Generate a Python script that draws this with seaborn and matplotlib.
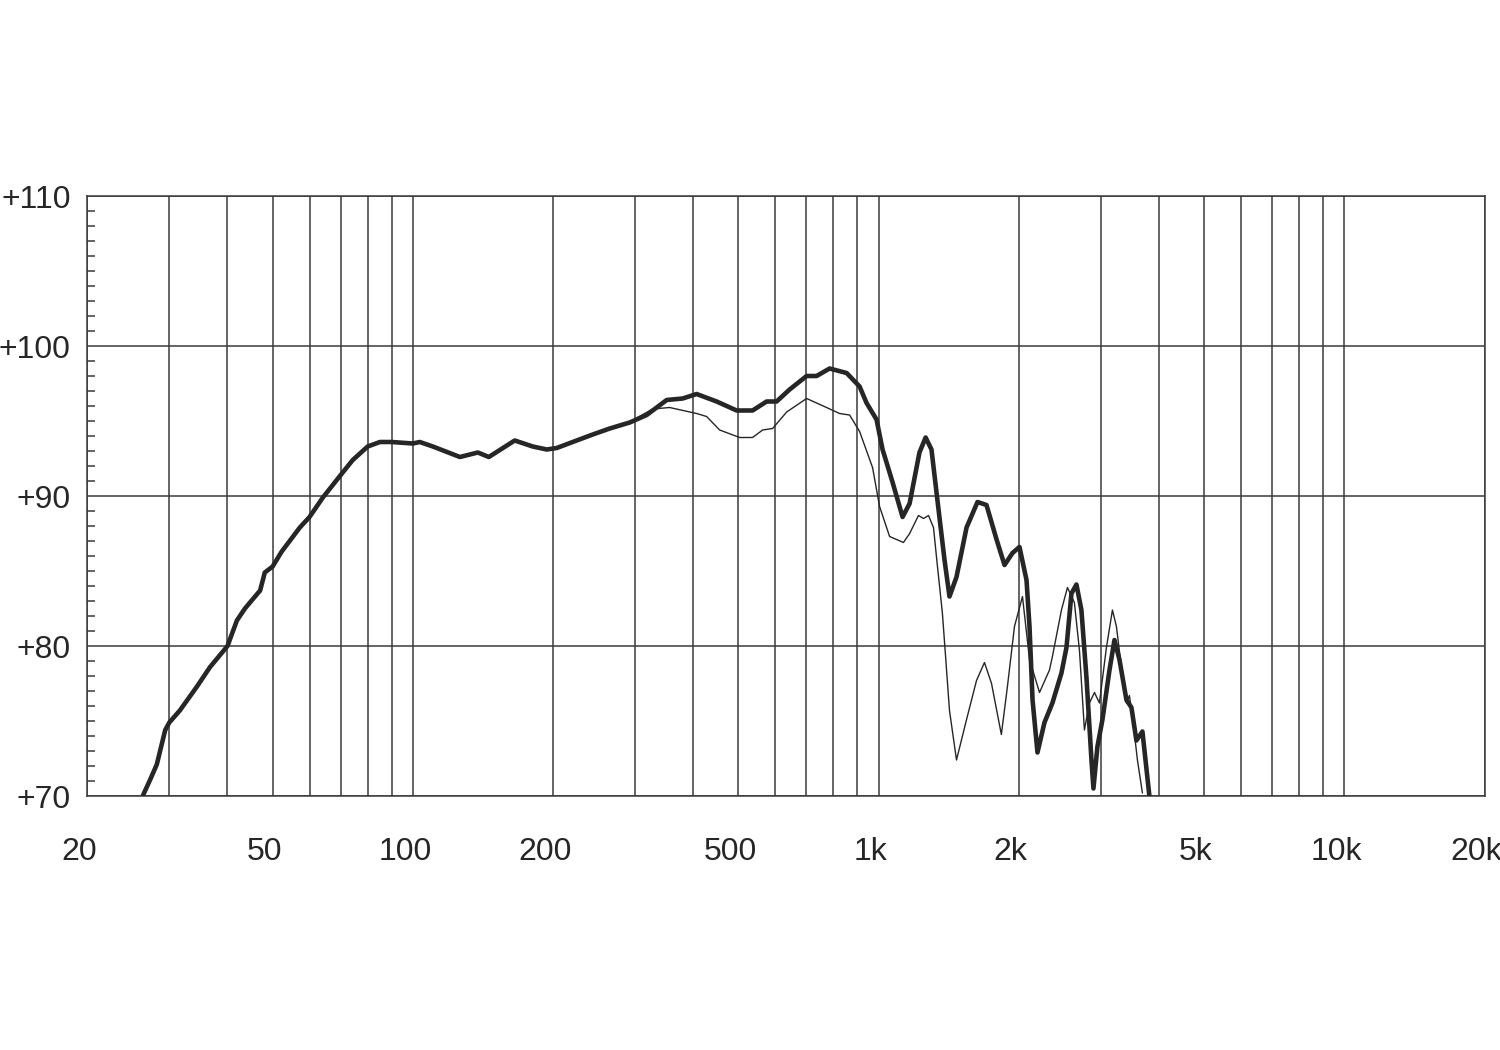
import matplotlib
matplotlib.use("Agg")
import matplotlib.pyplot as plt
import matplotlib.ticker as mticker
from matplotlib.transforms import ScaledTranslation
import numpy as np
import pandas as pd
import seaborn as sns

# ---- data ----
freq_thick = [26.3, 27.3, 28.2, 29.4, 30.0, 31.6, 34.4, 36.7, 40.0, 41.9, 43.6, 47.0, 48.1, 50.0,
              52.3, 57.2, 60.0, 64.1, 70.0, 74.3, 80.0, 85.0, 90.0, 100, 103.5, 110.4, 126.2,
              137.9, 145.6, 165.5, 180.9, 193.9, 203.7, 220.4, 243.4, 264.7, 292.2, 317.8, 350.8,
              379.6, 406.8, 449.1, 495.7, 536.4, 575, 604, 644.2, 700.6, 736.1, 785, 853.9, 910.5,
              942.4, 990, 1020, 1072, 1126, 1166, 1224, 1262, 1299, 1338, 1386, 1420, 1470, 1545,
              1631, 1705, 1792, 1864, 1939, 2007, 2078, 2109, 2141, 2194, 2271, 2362, 2470, 2532,
              2595, 2660, 2726, 2795, 2865, 2893, 2951, 3025, 3132, 3210, 3290, 3406, 3491, 3578,
              3686, 3815]
spl_thick = [70.0, 71.1, 72.1, 74.4, 74.9, 75.7, 77.3, 78.6, 80.0, 81.7, 82.5, 83.7, 84.9, 85.3,
             86.3, 87.9, 88.6, 89.9, 91.4, 92.4, 93.3, 93.6, 93.6, 93.5, 93.6, 93.3, 92.6,
             92.9, 92.6, 93.7, 93.3, 93.1, 93.2, 93.6, 94.1, 94.5, 94.9, 95.4, 96.4,
             96.5, 96.8, 96.3, 95.7, 95.7, 96.3, 96.3, 97.1, 98.0, 98.0, 98.5, 98.2, 97.3,
             96.2, 95.1, 93.1, 90.9, 88.6, 89.5, 92.9, 93.9, 93.1, 89.7, 85.7, 83.3, 84.6, 87.9,
             89.6, 89.4, 87.1, 85.4, 86.2, 86.6, 84.4, 81.3, 76.4, 72.9, 74.9, 76.2, 78.2, 79.9,
             83.5, 84.1, 82.4, 77.9, 72.4, 70.5, 73.3, 75.1, 78.4, 80.4, 79.1, 76.4, 75.9, 73.7,
             74.3, 70.0]

freq_thin = [302.5, 327.3, 355.9, 406.8, 427.3, 455.8, 503.1, 536.4, 563.7, 592.2, 634.8, 700.6,
             773.3, 824.6, 866.5, 910.5, 970.7, 1005, 1056, 1131, 1166, 1218, 1249, 1280, 1312,
             1338, 1371, 1386, 1420, 1470, 1545, 1623, 1688, 1748, 1835, 1891, 1958, 2037, 2109,
             2216, 2328, 2362, 2470, 2544, 2633, 2700, 2767, 2836, 2908, 2980, 3085, 3178, 3241,
             3322, 3406, 3456, 3508, 3596, 3686]
spl_thin = [95.2, 95.8, 95.9, 95.5, 95.3, 94.4, 93.9, 93.9, 94.4, 94.5, 95.6, 96.5,
            95.9, 95.5, 95.4, 94.3, 91.9, 89.3, 87.3, 86.9, 87.5, 88.7, 88.5, 88.7, 87.9,
            85.3, 82.2, 80.2, 75.7, 72.4, 75.1, 77.7, 78.9, 77.5, 74.1, 77.3, 81.3, 83.3, 79.1,
            76.9, 78.4, 79.3, 82.4, 83.9, 82.9, 79.7, 74.4, 76.2, 76.9, 76.2, 79.9, 82.4, 81.3,
            78.6, 76.2, 76.7, 75.3, 72.4, 70.2]

x_ticks = [20, 50, 100, 200, 500, 1000, 2000, 5000, 10000, 20000]
x_labels = ["20", "50", "100", "200", "500", "1k", "2k", "5k", "10k", "20k"]
y_ticks = [70, 80, 90, 100, 110]
y_labels = ["+70", "+80", "+90", "+100", "+110"]

# ---- style ----
sns.set_style("white")
plt.rcParams["font.family"] = ["Liberation Sans", "DejaVu Sans"]

INK = "#262626"
GRID = "#3a3a3a"

fig = plt.figure(figsize=(15, 10.5), dpi=100)
ax = fig.add_axes([87.3 / 1500, 1 - 796 / 1050, (1484.5 - 87.3) / 1500, 600 / 1050])

df_thin = pd.DataFrame({"f": freq_thin, "spl": spl_thin})
df_thick = pd.DataFrame({"f": freq_thick, "spl": spl_thick})

sns.lineplot(data=df_thin, x="f", y="spl", ax=ax, color=INK, linewidth=1.0,
             sort=False, estimator=None, zorder=3)
sns.lineplot(data=df_thick, x="f", y="spl", ax=ax, color=INK, linewidth=3.3,
             sort=False, estimator=None, zorder=4, solid_joinstyle="round",
             solid_capstyle="butt")

ax.set_xscale("log")
ax.set_xlim(20, 20000)
ax.set_ylim(70, 110)

ax.xaxis.set_major_locator(mticker.FixedLocator(x_ticks))
ax.xaxis.set_major_formatter(mticker.FixedFormatter(x_labels))
ax.xaxis.set_minor_locator(mticker.LogLocator(base=10, subs=np.arange(2, 10), numticks=20))
ax.xaxis.set_minor_formatter(mticker.NullFormatter())

ax.yaxis.set_major_locator(mticker.FixedLocator(y_ticks))
ax.yaxis.set_major_formatter(mticker.FixedFormatter(y_labels))
ax.yaxis.set_minor_locator(mticker.MultipleLocator(1))

ax.grid(True, axis="x", which="both", color=GRID, linewidth=1.1)
ax.grid(True, axis="y", which="major", color=GRID, linewidth=1.1)
ax.set_axisbelow(True)

ax.tick_params(axis="x", which="both", length=0, pad=29.5, labelsize=23, colors=INK)
ax.tick_params(axis="y", which="major", length=0, pad=12, labelsize=23, colors=INK)
ax.tick_params(axis="y", which="minor", direction="in", length=6, width=1.1,
               color=GRID, left=True, right=False)

for s in ax.spines.values():
    s.set_visible(True)
    s.set_color(GRID)
    s.set_linewidth(1.1)

ax.set_xlabel("")
ax.set_ylabel("")

shift = ScaledTranslation(-8 / 100, 0, fig.dpi_scale_trans)
for lab in ax.get_xticklabels():
    lab.set_transform(lab.get_transform() + shift)

fig.savefig("out.png", dpi=100, facecolor="white")
